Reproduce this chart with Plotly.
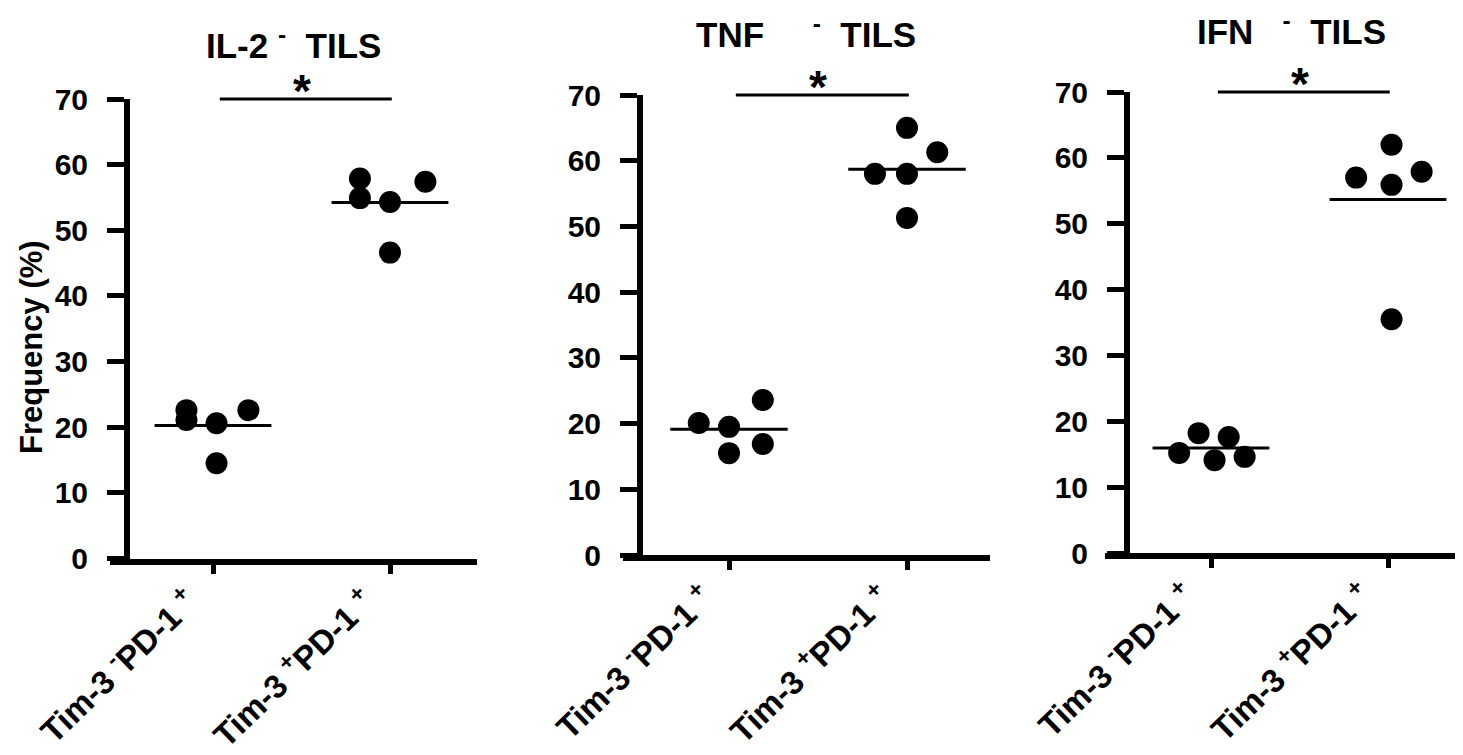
import plotly.graph_objects as go

W, H = 1463, 755
OFF = 8  # the page body margin shifts the figure by 8 px

# ---------------- data ----------------
groups = ["Tim-3 <sup>-</sup>PD-1 <sup>+</sup>",
          "Tim-3 <sup>+</sup>PD-1 <sup>+</sup>"]
titles = ["IL-2 <sup>-</sup>\u00a0\u00a0TILS",
          "TNF\u00a0\u00a0\u00a0\u00a0 <sup>-</sup>\u00a0\u00a0TILS",
          "IFN\u00a0\u00a0 <sup>-</sup>\u00a0\u00a0TILS"]
y_ticks = [0, 10, 20, 30, 40, 50, 60, 70]

il2_neg = [22.6, 21.1, 20.6, 22.6, 14.5]
il2_pos = [57.9, 54.9, 54.3, 57.4, 46.6]
tnf_neg = [20.1, 19.5, 23.6, 15.5, 16.9]
tnf_pos = [65.0, 61.3, 58.0, 58.0, 51.3]
ifn_neg = [15.2, 18.2, 14.1, 17.6, 14.6]
ifn_pos = [62.0, 57.0, 55.9, 57.9, 35.5]

# horizontal scatter of the dots (category units)
jit_il2_neg = [-0.15, -0.15, 0.02, 0.20, 0.02]
jit_il2_pos = [-0.17, -0.17, 0.0, 0.20, 0.0]
jit_tnf_neg = [-0.17, 0.0, 0.19, 0.0, 0.19]
jit_tnf_pos = [0.0, 0.17, -0.18, 0.0, 0.0]
jit_ifn_neg = [-0.18, -0.07, 0.02, 0.10, 0.19]
jit_ifn_pos = [0.02, -0.18, 0.02, 0.19, 0.02]

panels = [
    (il2_neg, il2_pos, jit_il2_neg, jit_il2_pos),
    (tnf_neg, tnf_pos, jit_tnf_neg, jit_tnf_pos),
    (ifn_neg, ifn_pos, jit_ifn_neg, jit_ifn_pos),
]

# ---------------- layout geometry (page pixels) ----------------
# (x-domain left, x-domain right, y-axis x, x of category 0, px per category, y pixel of 0, y pixel of 70)
geom = [
    (110, 477, 127, 213, 177, 558.5, 99),
    (623, 990, 640, 729, 178, 555, 95),
    (1105, 1462, 1127, 1211, 177, 553, 92),
]
title_pos = [(293, 43), (806, 32), (1291, 29)]


def px(x):
    return (x - OFF) / W


def py(y):
    return (H - (y - OFF)) / H


FONT = "Liberation Sans, Arial, Helvetica, sans-serif"

fig = go.Figure()
layout = dict(
    width=W, height=H, margin=dict(l=0, r=0, t=0, b=0, autoexpand=False),
    paper_bgcolor="white", plot_bgcolor="white", showlegend=False,
    font=dict(family=FONT, color="black", weight="bold"),
)
annotations = []

for i, ((neg, pos, jn, jp), g, tp, ttl) in enumerate(zip(panels, geom, title_pos, titles)):
    k = "" if i == 0 else str(i + 1)
    xa, ya = "x" + k, "y" + k
    x0, x1, yax, c0, ppu, py0, py70 = g
    xr = [(x0 - c0) / ppu, (x1 - c0) / ppu]
    fig.add_trace(go.Scatter(
        x=[j for j in jn] + [1 + j for j in jp], y=neg + pos,
        mode="markers", marker=dict(size=22, color="black"),
        xaxis=xa, yaxis=ya, cliponaxis=False))
    for gi, vals in enumerate([neg, pos]):
        m = sum(vals) / len(vals)
        fig.add_trace(go.Scatter(
            x=[gi - 0.33, gi + 0.33], y=[m, m], mode="lines",
            line=dict(color="black", width=3), xaxis=xa, yaxis=ya))
    layout["xaxis" + k] = dict(
        domain=[px(x0), px(x1)], range=xr, anchor=ya, automargin=False,
        tickmode="array", tickvals=[0, 1], showticklabels=False,
        ticks="outside", ticklen=9, tickwidth=5, tickcolor="black",
        showline=True, linewidth=6, linecolor="black",
        showgrid=False, zeroline=False)
    layout["yaxis" + k] = dict(
        domain=[py(py0), py(py70)], range=[0, 70],
        anchor="free", position=px(yax), automargin=False,
        tickmode="array", tickvals=y_ticks,
        ticks="outside", ticklen=17, tickwidth=5, tickcolor="black",
        showline=True, linewidth=6, linecolor="black",
        showgrid=False, zeroline=False, ticklabelstandoff=13,
        tickfont=dict(size=30, family=FONT, color="black", weight="bold"))
    # rotated category labels
    for gi, lab in enumerate(groups):
        annotations.append(dict(
            xref=xa, yref="paper", x=gi, y=py(py0 + 18), text=lab,
            showarrow=False, textangle=-44, xanchor="right", yanchor="top",
            xshift=-6,
            font=dict(size=33, family=FONT, color="black", weight="bold")))
    # significance bar
    annotations.append(dict(
        xref=xa, yref=ya, axref=xa, ayref=ya, x=1.01, y=70, ax=0.03, ay=70,
        text="", showarrow=True, arrowhead=0, arrowwidth=3, arrowcolor="black",
        standoff=0, startstandoff=0))
    annotations.append(dict(
        xref=xa, yref=ya, x=0.5, y=70, text="*", showarrow=False,
        yanchor="middle", yshift=8,
        font=dict(size=46, family=FONT, color="black", weight="bold")))
    annotations.append(dict(
        xref="paper", yref="paper", x=px(tp[0]), y=py(tp[1]), text=ttl,
        showarrow=False, xanchor="center", yanchor="middle",
        font=dict(size=35, family=FONT, color="black", weight="bold")))

annotations.append(dict(
    xref="paper", yref="paper", x=px(31), y=py(347), text="Frequency (%)",
    showarrow=False, textangle=-90, xanchor="center", yanchor="middle",
    font=dict(size=31, family=FONT, color="black", weight="bold")))

layout["annotations"] = annotations
fig.update_layout(**layout)
fig.write_html("out.html")
